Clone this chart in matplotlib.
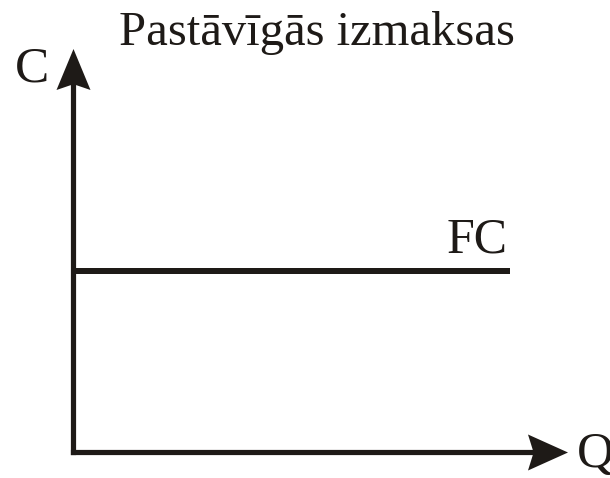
import matplotlib
matplotlib.use("Agg")
import matplotlib.pyplot as plt
from matplotlib.font_manager import FontProperties

# --------------------------------------------------------------------
# data (arbitrary units)
quantity = [0, 88.3]        # Q range of the FC line
fixed_cost = [45, 45]       # FC is constant
q_max = 100                 # Q axis arrow tip
c_max = 100                 # C axis arrow tip

TITLE = "Pastāvīgās izmaksas"
INK = "#1e1a17"
FONTSIZE = 36
# --------------------------------------------------------------------
W, H = 610, 478
fig = plt.figure(figsize=(W / 100, H / 100), dpi=100)
ox, oy = 73.5, 452.5          # origin in pixels
ax = fig.add_axes([ox / W, (H - oy) / H, (568 - ox) / W, (oy - 49) / H])
ax.set_xlim(0, q_max)
ax.set_ylim(0, c_max)
ax.axis("off")

# pixels per data unit
px_x = (568 - ox) / q_max
px_y = (oy - 49) / c_max
lw_px = 5.2

# C axis
ax.arrow(0, -lw_px / 2 / px_y, 0, c_max + lw_px / 2 / px_y,
         width=lw_px / px_x, head_width=34 / px_x, head_length=41 / px_y,
         overhang=0.12, length_includes_head=True, color=INK, lw=0,
         clip_on=False)
# Q axis
ax.arrow(-lw_px / 2 / px_x, 0, q_max + lw_px / 2 / px_x, 0,
         width=lw_px / px_y, head_width=36 / px_y, head_length=40 / px_x,
         overhang=0.12, length_includes_head=True, color=INK, lw=0,
         clip_on=False)

# FC line
ax.plot(quantity, fixed_cost, color=INK, lw=6 * 0.72, solid_capstyle="butt")

def put(x, y, s, ha="left", size=FONTSIZE):
    prop = FontProperties(family="Liberation Serif", size=size)
    fig.text(x / W, 1 - y / H, s, ha=ha, va="baseline", color=INK,
             fontproperties=prop)

put(317, 45, TITLE, ha="center", size=35)
put(15, 82, "C", size=37)
put(508, 252, "FC", ha="right")
put(577, 467, "Q", size=37)

fig.savefig("out.png", dpi=100)
